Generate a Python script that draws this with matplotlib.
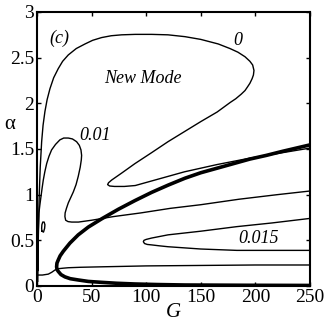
import matplotlib
matplotlib.use('Agg')
import matplotlib.pyplot as plt

# contour traces (G, alpha)
g_zero = [0.8, 1.0, 1.3, 2.1, 3.0, 4.3, 5.6, 7.3, 9.3, 11.9, 15.3, 19.5, 23.5, 28.7, 36, 44, 51, 59.2, 68, 77.5,
          90, 105, 120, 135.5, 150, 166, 176.7, 184, 190.5, 195, 197.5, 198.7, 198.2, 197, 195, 192.8, 190.5, 187,
          182, 177, 165, 150, 135, 120, 105, 89.7, 78, 68.4, 65.5, 64.7, 66.5, 71, 80, 90, 102, 114,
          135, 165, 195, 225, 250]
a_zero = [0.05, 0.3, 0.58, 1.0, 1.3, 1.58, 1.76, 1.91, 2.04, 2.16, 2.28, 2.38, 2.46, 2.53, 2.60, 2.65, 2.69, 2.72, 2.74, 2.75,
          2.755, 2.755, 2.75, 2.73, 2.70, 2.65, 2.60, 2.56, 2.51, 2.46, 2.42, 2.36, 2.31, 2.27, 2.22, 2.18, 2.14, 2.10,
          2.05, 2.01, 1.905, 1.80, 1.69, 1.58, 1.46, 1.34, 1.24, 1.16, 1.13, 1.11, 1.095, 1.09, 1.09, 1.10, 1.14, 1.18,
          1.25, 1.33, 1.40, 1.46, 1.51]

g_p01 = [1.2, 1.2, 1.3, 1.8, 2.7, 3.7, 4.7, 5.8, 7.2, 8.9, 11, 13.4, 17, 21, 24.5, 28.7, 32.5, 36.3, 38.8, 40.3,
         40.9, 40.6, 39.6, 37.8, 35.8, 33.3, 31, 28.7, 27, 25.8, 25.6, 26.3, 28.5, 31.8, 38, 50, 70, 95, 122, 150,
         185, 220, 250]
a_p01 = [0.17, 0.4, 0.62, 0.80, 0.89, 0.98, 1.07, 1.16, 1.25, 1.34, 1.42, 1.49, 1.55, 1.60, 1.62, 1.62, 1.61, 1.58, 1.54, 1.49,
         1.43, 1.38, 1.30, 1.20, 1.11, 1.03, 0.97, 0.91, 0.85, 0.80, 0.76, 0.72, 0.705, 0.70, 0.70, 0.72, 0.76, 0.80, 0.85, 0.89,
         0.95, 1.0, 1.04]

g_p015 = [250, 215, 183, 150, 120, 105, 100, 98, 97.4, 98.5, 101, 105, 112, 120, 150, 183, 215, 250]
a_p015 = [0.74, 0.69, 0.65, 0.60, 0.56, 0.525, 0.51, 0.50, 0.485, 0.465, 0.455, 0.45, 0.44, 0.43, 0.405, 0.39, 0.39, 0.39]

g_low = [0.5, 5, 10.4, 13.5, 16.5, 20, 24, 28.7, 40, 59, 100, 150, 200, 250]
a_low = [0.12, 0.12, 0.13, 0.15, 0.175, 0.19, 0.195, 0.20, 0.205, 0.21, 0.22, 0.225, 0.23, 0.23]

g_loop = [4.6, 4.3, 4.5, 5.3, 6.6, 7.3, 7.0, 6.0, 4.6]
a_loop = [0.60, 0.63, 0.67, 0.70, 0.70, 0.67, 0.63, 0.59, 0.60]

g_thick = [250, 225, 210, 195, 180, 165, 150, 135.5, 120.2, 105, 89.7, 74.5, 59.2, 47, 37.8, 30.2, 24.1, 21.2, 19.5,
           18.3, 18, 18.4, 19.5, 22, 25.6, 30.5, 37.8, 47, 59.2, 73, 89.7, 110, 135.5, 190, 250]
a_thick = [1.545, 1.475, 1.43, 1.39, 1.34, 1.29, 1.24, 1.18, 1.105, 1.025, 0.935, 0.84, 0.735, 0.645, 0.56, 0.47, 0.38,
           0.33, 0.285, 0.25, 0.21, 0.18, 0.16, 0.125, 0.10, 0.08, 0.066, 0.05, 0.04, 0.03, 0.022, 0.016, 0.011, 0.008, 0.006]

x_ticks = [0, 50, 100, 150, 200, 250]
y_ticks = [0, 0.5, 1, 1.5, 2, 2.5, 3]
y_ticklabels = ['0', '0.5', '1', '1.5', '2', '2.5', '3']

plt.rcParams['font.family'] = ['Liberation Serif', 'DejaVu Serif']

fig = plt.figure(figsize=(3.27, 3.26), dpi=100)
ax = fig.add_axes([0.113, 0.1227, 0.835, 0.8405])

thin = 1.0
ax.plot(g_zero, a_zero, color='black', lw=thin)
ax.plot(g_p01, a_p01, color='black', lw=thin)
ax.plot(g_p015, a_p015, color='black', lw=thin)
ax.plot(g_low, a_low, color='black', lw=thin)
ax.plot(g_loop, a_loop, color='black', lw=thin)
ax.plot(g_thick, a_thick, color='black', lw=2.6, solid_capstyle='butt')

ax.set_xlim(0, 250)
ax.set_ylim(0, 3)
ax.set_xticks(x_ticks)
ax.set_yticks(y_ticks)
ax.set_yticklabels(y_ticklabels)
ax.tick_params(direction='in', top=True, right=True, labelsize=14, length=3, width=1, pad=2)
for s in ax.spines.values():
    s.set_linewidth(1.5)

ax.text(0.498, -0.095, 'G', fontsize=15, style='italic', ha='center', va='center', transform=ax.transAxes)
ax.text(-0.099, 0.588, '\u03b1', fontsize=15, ha='center', va='center', transform=ax.transAxes)

ax.text(20.5, 2.71, '(c)', fontsize=13, style='italic', ha='center', va='center')
ax.text(97.4, 2.27, 'New Mode', fontsize=13, style='italic', ha='center', va='center')
ax.text(184, 2.69, '0', fontsize=13, style='italic', ha='center', va='center')
ax.text(53, 1.65, '0.01', fontsize=13, style='italic', ha='center', va='center')
ax.text(202.7, 0.52, '0.015', fontsize=13, style='italic', ha='center', va='center')

fig.savefig('out.png', dpi=100)
